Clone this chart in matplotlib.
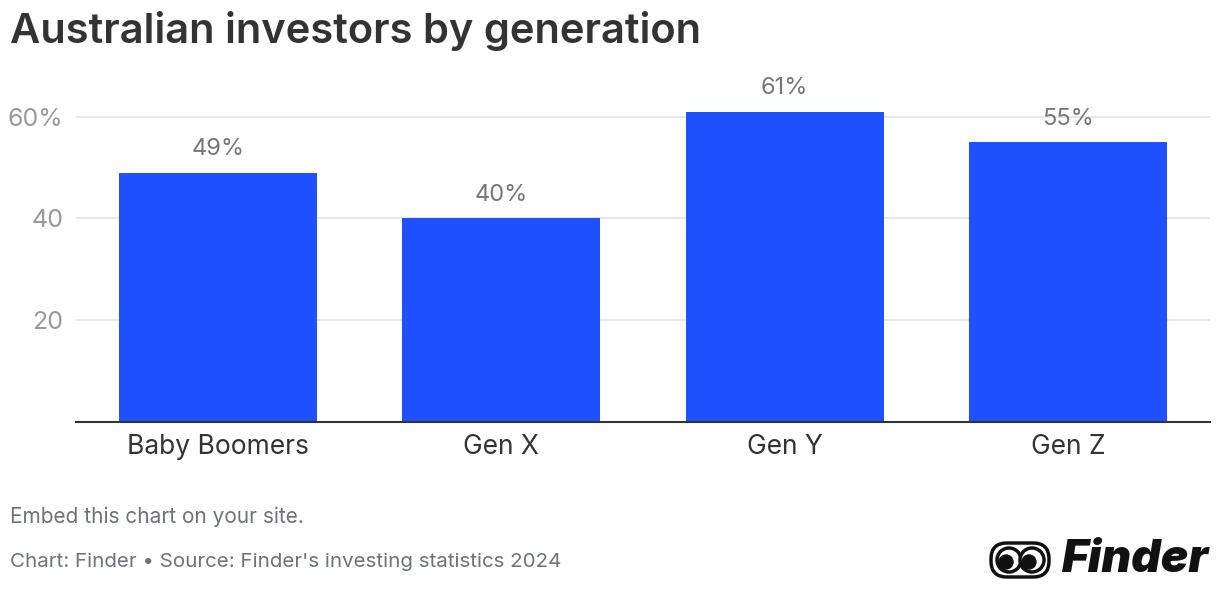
import matplotlib.pyplot as plt
from matplotlib.patches import Circle, FancyBboxPatch

# data
generations = ["Baby Boomers", "Gen X", "Gen Y", "Gen Z"]
investors_pct = [49, 40, 61, 55]
y_ticks = [20, 40, 60]
y_tick_labels = ["20", "40", "60%"]

plt.rcParams["font.family"] = ["Inter", "DejaVu Sans"]

fig = plt.figure(figsize=(12.2, 5.94), dpi=100)
ax = fig.add_axes([76 / 1220, 172.3 / 594, 1134 / 1220, 0.5564])

x = range(len(generations))
bars = ax.bar(x, investors_pct, width=0.7, color="#1F51FF", zorder=2)
for b, v in zip(bars, investors_pct):
    ax.annotate(f"{v}%", (b.get_x() + b.get_width() / 2, v),
                xytext=(0, 9), textcoords="offset points",
                ha="center", va="bottom", fontsize=17, color="#777777")

ax.set_xlim(-0.5, 3.5)
ax.set_ylim(0, 65)
ax.set_yticks(y_ticks)
ax.set_yticklabels(y_tick_labels)
ax.set_xticks(list(x))
ax.set_xticklabels(generations)
ax.tick_params(axis="y", length=0, pad=9, labelsize=18, labelcolor="#9a9a9a")
ax.tick_params(axis="x", length=0, pad=9, labelsize=19, labelcolor="#333333")
ax.grid(axis="y", color="#e5e5e5", linewidth=1.3, zorder=0)
for s in ["top", "right", "left"]:
    ax.spines[s].set_visible(False)
ax.spines["bottom"].set_color("#333333")
ax.spines["bottom"].set_linewidth(1.5)
ax.spines["bottom"].set_zorder(3)

fig.text(10 / 1220, 1 - 31 / 594, "Australian investors by generation",
         fontsize=30, fontweight="semibold", color="#333333", va="center", ha="left")
fig.text(10 / 1220, 1 - 517 / 594, "Embed this chart on your site.",
         fontsize=15, color="#6b7280", va="center", ha="left")
fig.text(10 / 1220, 1 - 562 / 594, "Chart: Finder \u2022 Source: Finder's investing statistics 2024",
         fontsize=14.8, color="#6b7280", va="center", ha="left")

# logo
fig.text(1209 / 1220, 1 - 560 / 594, "Finder", fontsize=33, fontweight="black",
         fontstyle="italic", color="#111111", va="center", ha="right")
la = fig.add_axes([988 / 1220, 1 - 580 / 594, 64 / 1220, 40 / 594])
la.set_xlim(0, 64)
la.set_ylim(0, 40)
la.axis("off")
la.add_patch(FancyBboxPatch((3, 3), 58, 34, boxstyle="round,pad=0,rounding_size=16",
                            fill=False, edgecolor="#111111", linewidth=2.5))
for cx in (21, 44):
    la.add_patch(Circle((cx, 20), 12, facecolor="white", edgecolor="#111111", linewidth=2.5))
    la.add_patch(Circle((cx - 3, 18), 7, color="#111111"))

fig.savefig("out.png", dpi=100)
